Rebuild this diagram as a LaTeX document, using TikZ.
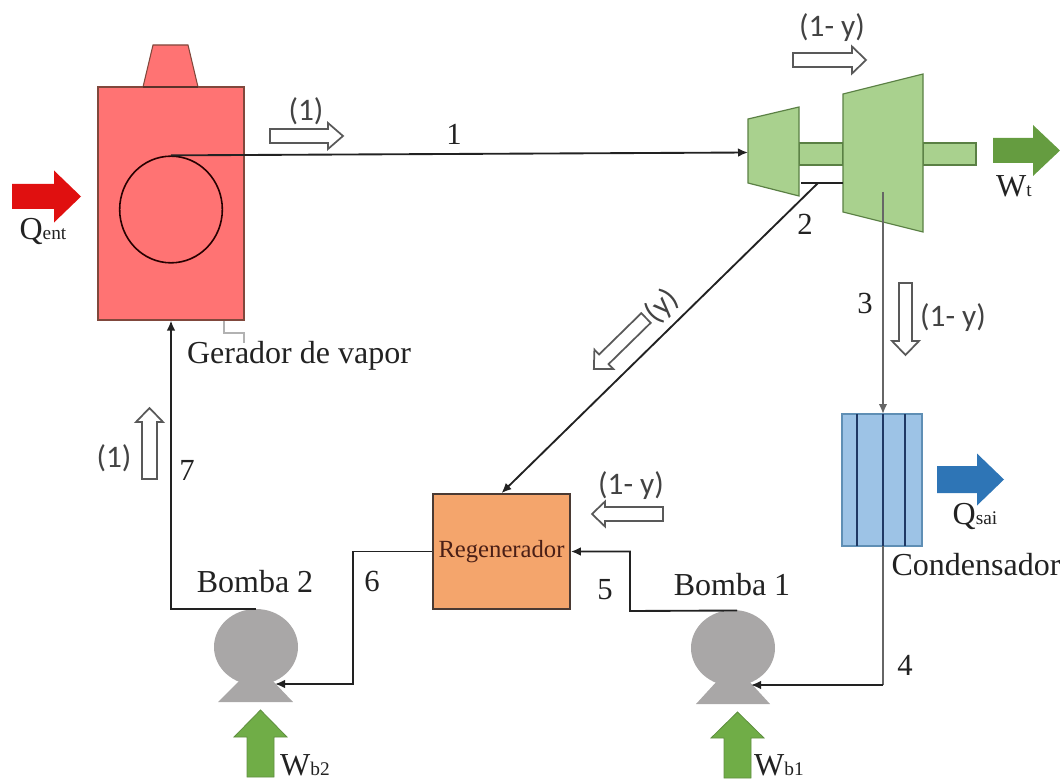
\documentclass[tikz,border=0pt]{standalone}
\usepackage{fontspec}
\setmainfont{Liberation Serif}
\newfontfamily\calibri{Carlito}
\usetikzlibrary{shapes.geometric,arrows.meta}
\definecolor{boilerfill}{HTML}{FF7373}
\definecolor{boilerline}{HTML}{80483C}
\definecolor{turbfill}{HTML}{A9D18E}
\definecolor{turbline}{HTML}{5A8044}
\definecolor{regenfill}{HTML}{F4A56C}
\definecolor{regenline}{HTML}{4A3A33}
\definecolor{condfill}{HTML}{9DC3E6}
\definecolor{condline}{HTML}{5F8FB5}
\definecolor{condbar}{HTML}{1F3864}
\definecolor{pumpfill}{HTML}{A9A7A7}
\definecolor{heatred}{HTML}{E01010}
\definecolor{heatblue}{HTML}{2E75B6}
\definecolor{workgreen}{HTML}{70AD47}
\definecolor{workdark}{HTML}{5F8F40}
\definecolor{ink}{HTML}{222222}
\definecolor{regentext}{HTML}{4A1F16}
\newcommand{\blockarrow}[8]{% x,y,angle,length,shaft,head,headlen,style
  \begin{scope}[shift={(#1,#2)},rotate=#3]
    \path[#8] (0,-#5/2) -- ({#4-#7},-#5/2) -- ({#4-#7},-#6/2) -- (#4,0)
      -- ({#4-#7},#6/2) -- ({#4-#7},#5/2) -- (0,#5/2) -- cycle;
  \end{scope}}
\tikzset{
  x=.75pt,y=-.75pt,
  pipe/.style={draw=ink,line width=1.4pt},
  flow/.style={pipe,-{Latex[length=7.5pt,width=6.5pt]}},
  greypipe/.style={draw=black!60,line width=1.4pt},
  whitearrow/.style={draw=black!65,fill=white,line width=1.3pt},
  redarrow/.style={fill=heatred},
  bluearrow/.style={fill=heatblue},
  greenarrow/.style={fill=workgreen,draw=workdark,line width=.6pt},
  wtarrow/.style={fill=workgreen!90!black},
  turb/.style={fill=turbfill,draw=turbline,line width=.9pt},
  pump/.style={ellipse,fill=pumpfill,inner sep=0pt,minimum width=63pt,minimum height=57pt},
  pumpbase/.style={fill=pumpfill},
  serif/.style={font=\fontsize{24pt}{26pt}\selectfont,text=ink,inner sep=0pt},
  num/.style={font=\fontsize{23pt}{26pt}\selectfont,text=ink,inner sep=0pt},
  sans/.style={font=\calibri\fontsize{23.5pt}{26pt}\selectfont,text=ink!85,inner sep=0pt},
  qlabel/.style={text=ink,inner sep=0pt},
}
\newcommand{\symb}[2]{{\fontsize{24pt}{26pt}\selectfont #1}{\fontsize{14.5pt}{16pt}\selectfont #2}}
\begin{document}
\begin{tikzpicture}
\useasboundingbox (0,0) rectangle (1060,781);
% steam generator
\path[fill=boilerfill,draw=boilerline,line width=.8pt] (143,87) -- (153,45) -- (188,45) -- (198,87) -- cycle;
\node[draw=boilerline,fill=boilerfill,line width=.8pt,inner sep=0pt,minimum width=109.5pt,minimum height=174.75pt] (boiler) at (171,203.5) {};
\draw[boilerline!70!black,line width=1.5pt] (143,87) -- (198,87);
\node[ellipse,draw=black!85!red,line width=1.2pt,inner sep=0pt,minimum width=77pt,minimum height=80pt] (coil) at (171,209.5) {};
\coordinate (leadA) at (224,321);
\coordinate (leadB) at (244,343);
\draw[black!30,line width=.9pt] (leadA) |- (244,333) -- (leadB);
% turbines
\path[turb] (799,143) rectangle (843,165);
\path[turb] (923,143) rectangle (976,165);
\path[turb] (748,119) -- (799,107) -- (799,196) -- (748,183) -- cycle;
\path[turb] (843,94) -- (923,74) -- (923,232) -- (843,212) -- cycle;
\coordinate (hpin) at (748,152.5);
\coordinate (bleedL) at (801,183);
\coordinate (bleedR) at (843,183);
\coordinate (bleed) at (818,183);
\coordinate (lpout) at (883,192);
% condenser
\node[draw=condline,fill=condfill,line width=.8pt,inner sep=0pt,minimum width=60pt,minimum height=99pt] (cond) at (882,480) {};
\draw[condbar,line width=1.1pt] (857,414) -- (857,546) (905,414) -- (905,546) (883,414) -- (883,546);
% regenerator
\node[draw=regenline,fill=regenfill,line width=1.3pt,inner sep=0pt,minimum width=102.75pt,minimum height=86.25pt,
  font=\fontsize{18.5pt}{20pt}\selectfont,text=regentext] (regen) at (501.5,551.5) {Regenerador};
% pumps
\node[pump] (pump1) at (733,648) {};
\path[pumpbase] (696,704) -- (718,680) -- (748,680) -- (770,704) -- cycle;
\node[pump] (pump2) at (256,647) {};
\path[pumpbase] (218,702) -- (241,679) -- (271,679) -- (293,702) -- cycle;
\coordinate (p1in) at (751,685);
\coordinate (p2in) at (275,684);
\coordinate (p1top) at (737,610.5);
% pipes
\draw[flow] (coil.north) -- (hpin);
\draw[pipe] (bleedL) -- (bleedR);
\draw[flow] (bleed) -- (regen.north);
\draw[flow,draw=black!60] (lpout) -- (883,414);
\coordinate (j4) at (883,685);
\draw[greypipe] (883,546) -- (j4);
\draw[flow] (j4) -- (p1in);
\coordinate (j5) at (630,611);
\draw[flow] (p1top) -- (j5) |- (regen.east);
\coordinate (j6) at (353,684);
\draw[flow] (regen.west) -| (j6) -- (p2in);
\draw[flow] (pump2.north) -| (boiler.south);
% thick arrows
\blockarrow{12}{196.5}{0}{69}{25}{52}{27}{redarrow}
\blockarrow{993}{150.5}{0}{67}{25}{51}{27}{wtarrow}
\blockarrow{937}{479.5}{0}{67}{27}{52}{27}{bluearrow}
\blockarrow{260.5}{777}{90}{67}{27}{53}{27}{greenarrow}
\blockarrow{737.5}{778}{90}{66}{27}{53}{26}{greenarrow}
% white flow arrows
\blockarrow{270}{136}{0}{73}{14}{26}{15}{whitearrow}
\blockarrow{793}{60}{0}{73}{14}{27}{14}{whitearrow}
\blockarrow{663}{514}{180}{71}{14}{25}{13}{whitearrow}
\blockarrow{646}{318}{224.4}{73}{13.5}{27}{14}{whitearrow}
\blockarrow{905.5}{283}{-90}{72}{13}{27}{14}{whitearrow}
\blockarrow{149.5}{479}{90}{71}{15}{27}{14}{whitearrow}
% labels
\node[serif] (lgv) at (299,356) {Gerador de vapor};
\node[sans] (l1a) at (306,111) {(1)};
\node[num] (n1) at (454,134) {1};
\node[sans] (l1y) at (832,28) {(1- y)};
\node[num] (n2) at (805,224) {2};
\node[num] (n3) at (865,303) {3};
\node[sans] (l1yb) at (953,318) {(1- y)};
\node[sans,rotate=45] (ly) at (662,306) {(y)};
\node[sans] (l1yc) at (631,486) {(1- y)};
\node[num] (n4) at (905,665) {4};
\node[num] (n5) at (605,590) {5};
\node[num] (n6) at (372,581) {6};
\node[num] (n7) at (187,470) {7};
\node[sans] (l1d) at (114,458) {(1)};
\node[serif] (lb2) at (255,582) {Bomba 2};
\node[serif] (lb1) at (732,585) {Bomba 1};
\node[serif] (lcond) at (976,565) {Condensador};
\node[qlabel] (qent) at (43,231) {\symb{Q}{ent}};
\node[qlabel] (wt) at (1014,186) {\symb{W}{t}};
\node[qlabel] (qsai) at (975,516) {\symb{Q}{sai}};
\node[qlabel] (wb2) at (305,765) {\symb{W}{b2}};
\node[qlabel] (wb1) at (779,765) {\symb{W}{b1}};
\end{tikzpicture}
\end{document}
